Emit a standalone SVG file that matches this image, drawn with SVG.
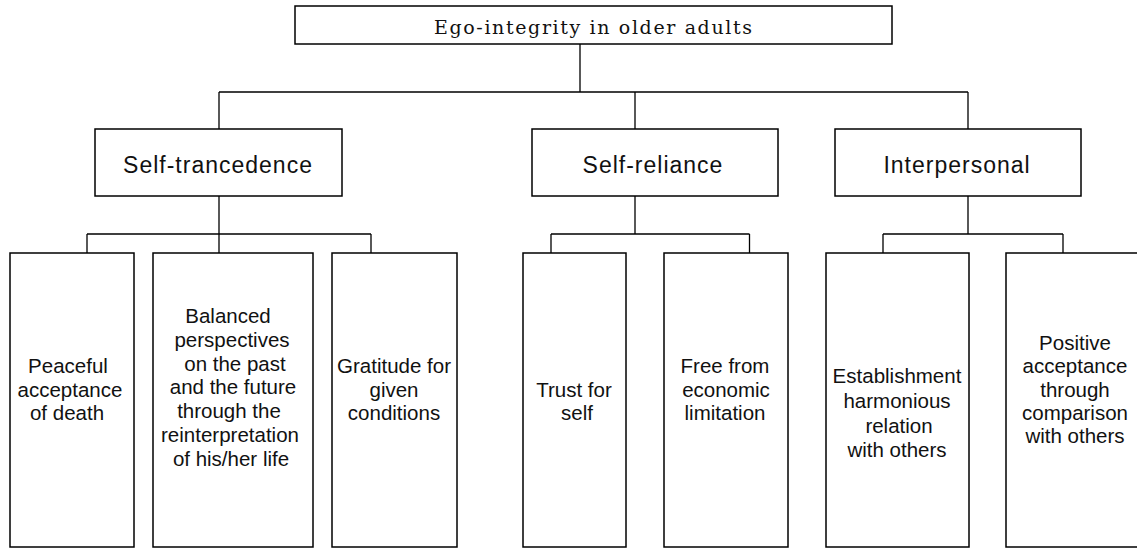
<svg xmlns="http://www.w3.org/2000/svg" width="1137" height="549" viewBox="0 0 1137 549">
<style>
.box{fill:#fff;stroke:#000;stroke-width:1.5}
.con{fill:none;stroke:#000;stroke-width:1.3}
.t1{font-family:"DejaVu Serif","Liberation Serif",serif;font-size:19px;fill:#111;text-anchor:middle}
.t2{font-family:"Liberation Sans",Arial,sans-serif;font-size:23px;letter-spacing:1px;fill:#111;text-anchor:middle}
.t3{font-family:"Liberation Sans",Arial,sans-serif;font-size:20.5px;fill:#111;text-anchor:middle}
</style>
<rect width="1137" height="549" fill="#fff"/>
<g id="connectors" class="con">
<path d="M580 44V92M219 92H968M219 92V129M635 92V129M968 92V129"/>
<path d="M219 196V253M87 234H371M87 234V253M371 234V253"/>
<path d="M635 196V234M551 234H749.5M551 234V253M749.5 234V253"/>
<path d="M968 196V234M883 234H1063M883 234V253M1063 234V253"/>
</g>
<g id="root"><rect class="box" x="295" y="6" width="597" height="38"/><text class="t1" x="593" y="34" textLength="318" lengthAdjust="spacing">Ego-integrity in older adults</text></g>
<g id="self-trancedence"><rect class="box" x="95" y="129" width="247" height="67"/><text class="t2" x="218" y="173">Self-trancedence</text></g>
<g id="self-reliance"><rect class="box" x="532" y="129" width="246" height="67"/><text class="t2" x="653" y="173">Self-reliance</text></g>
<g id="interpersonal"><rect class="box" x="835" y="129" width="246" height="67"/><text class="t2" x="957" y="173">Interpersonal</text></g>
<g id="leaf1"><rect class="box" x="10" y="253" width="124" height="294"/><text class="t3"><tspan x="68" y="373">Peaceful</tspan><tspan x="70" y="397">acceptance</tspan><tspan x="67" y="420">of death</tspan></text></g>
<g id="leaf2"><rect class="box" x="153" y="253" width="160" height="294"/><text class="t3"><tspan x="228" y="323">Balanced</tspan><tspan x="232" y="347">perspectives</tspan><tspan x="235" y="371">on the past</tspan><tspan x="233" y="394">and the future</tspan><tspan x="229" y="418">through the</tspan><tspan x="230" y="442">reinterpretation</tspan><tspan x="231" y="466">of his/her life</tspan></text></g>
<g id="leaf3"><rect class="box" x="332" y="253" width="125" height="294"/><text class="t3"><tspan x="394" y="373">Gratitude for</tspan><tspan x="394" y="397">given</tspan><tspan x="394" y="420">conditions</tspan></text></g>
<g id="leaf4"><rect class="box" x="523" y="253" width="103" height="294"/><text class="t3"><tspan x="574" y="397">Trust for</tspan><tspan x="577" y="420">self</tspan></text></g>
<g id="leaf5"><rect class="box" x="664" y="253" width="124" height="294"/><text class="t3"><tspan x="725" y="373">Free from</tspan><tspan x="726" y="397">economic</tspan><tspan x="725" y="420">limitation</tspan></text></g>
<g id="leaf6"><rect class="box" x="826" y="253" width="143" height="294"/><text class="t3"><tspan x="897" y="383">Establishment</tspan><tspan x="897" y="408">harmonious</tspan><tspan x="899" y="433">relation</tspan><tspan x="897" y="457">with others</tspan></text></g>
<g id="leaf7"><rect class="box" x="1006" y="253" width="140" height="294"/><text class="t3"><tspan x="1075" y="350">Positive</tspan><tspan x="1075" y="373">acceptance</tspan><tspan x="1075" y="397">through</tspan><tspan x="1075" y="420">comparison</tspan><tspan x="1075" y="443">with others</tspan></text></g>
</svg>
